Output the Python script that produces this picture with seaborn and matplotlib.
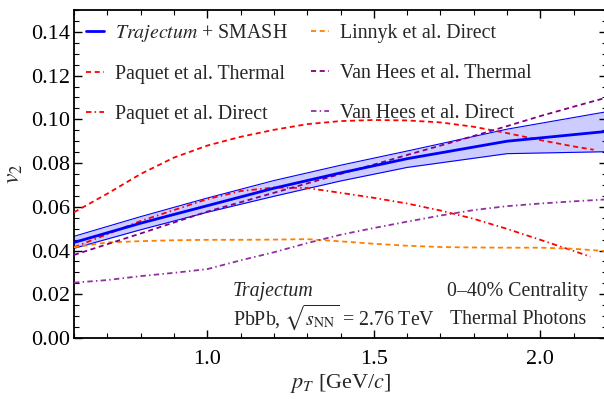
import numpy as np
import pandas as pd
import matplotlib
matplotlib.use("Agg")
import matplotlib.pyplot as plt
import seaborn as sns
from matplotlib.ticker import MultipleLocator
from matplotlib.lines import Line2D

# ---------------- data ----------------
pt_traj = [0.6, 0.8, 1.0, 1.2, 1.4, 1.6, 1.9, 2.2]
traj_mid = [0.0437, 0.0525, 0.0605, 0.0685, 0.0755, 0.0820, 0.0900, 0.0945]
traj_hi = [0.0465, 0.0555, 0.0640, 0.0720, 0.0790, 0.0855, 0.0955, 0.1035]
traj_lo = [0.0410, 0.0495, 0.0575, 0.0648, 0.0718, 0.0780, 0.0843, 0.0852]

pt_paq_th = [0.6, 0.7, 0.8, 0.9, 1.0, 1.1, 1.2, 1.3, 1.4, 1.5, 1.6, 1.7, 1.8, 1.9, 2.0, 2.1, 2.16]
paq_th = [0.0575, 0.0660, 0.0750, 0.0825, 0.0880, 0.0920, 0.0952, 0.0978, 0.0992, 0.0997, 0.0995,
          0.0986, 0.0966, 0.0937, 0.0905, 0.0876, 0.0861]

pt_paq_dir = [0.6, 0.7, 0.8, 0.9, 1.0, 1.1, 1.2, 1.3, 1.4, 1.5, 1.6, 1.7, 1.8, 1.9, 2.0, 2.1, 2.15]
paq_dir = [0.0415, 0.0475, 0.0535, 0.0585, 0.0635, 0.0672, 0.0688, 0.0686, 0.0664, 0.0641, 0.0615,
           0.0583, 0.0545, 0.0499, 0.0449, 0.0398, 0.0372]

pt_grid = [0.6, 0.7, 0.8, 0.9, 1.0, 1.1, 1.2, 1.3, 1.4, 1.5, 1.6, 1.7, 1.8, 1.9, 2.0, 2.1, 2.2]
linnyk = [0.0415, 0.0437, 0.0443, 0.0447, 0.0449, 0.0449, 0.0450, 0.0452, 0.0442, 0.0431, 0.0422,
          0.0416, 0.0414, 0.0413, 0.0413, 0.0408, 0.0397]
vh_th = [0.0380, 0.0429, 0.0478, 0.0528, 0.0578, 0.0621, 0.0664, 0.0707, 0.0750, 0.0793, 0.0837,
         0.0880, 0.0924, 0.0969, 0.1015, 0.1058, 0.1100]
vh_dir = [0.0253, 0.0265, 0.0283, 0.0298, 0.0315, 0.0355, 0.0392, 0.0434, 0.0472, 0.0503, 0.0532,
          0.0560, 0.0585, 0.0603, 0.0615, 0.0625, 0.0634]

labels = [r"$\mathit{Trajectum}$ + SMASH", "Paquet et al. Thermal", "Paquet et al. Direct",
          "Linnyk et al. Direct", "Van Hees et al. Thermal", "Van Hees et al. Direct"]

# ---------------- style ----------------
sns.set_style("ticks")
plt.rcParams["font.family"] = ["Liberation Serif", "DejaVu Serif"]
plt.rcParams["mathtext.fontset"] = "stix"

BLUE = "#0000FF"
RED = "#FF0000"
ORANGE = "#FF8000"
PURPLE = "#800080"
PURPLE2 = "#9030A0"

lw = 1.3
DASH = (0, (2.8, 2.0))
DASHDOT = (0, (3.0, 1.8, 0.8, 1.8))

fig = plt.figure(figsize=(6.04, 3.99), dpi=100)
ax = fig.add_axes([74 / 604, 1 - 338 / 399, (607 - 74) / 604, (338 - 10) / 399])

# band
ax.fill_between(pt_traj, traj_lo, traj_hi, color=BLUE, alpha=0.2, lw=0, zorder=1)
sns.lineplot(x=pt_traj, y=traj_hi, ax=ax, color=BLUE, lw=0.8, zorder=2)
sns.lineplot(x=pt_traj, y=traj_lo, ax=ax, color=BLUE, lw=0.8, zorder=2)

sns.lineplot(x=pt_paq_th, y=paq_th, ax=ax, color=RED, lw=lw, linestyle=DASH, zorder=3)
sns.lineplot(x=pt_paq_dir, y=paq_dir, ax=ax, color=RED, lw=lw, linestyle=DASHDOT, zorder=3)
sns.lineplot(x=pt_grid, y=linnyk, ax=ax, color=ORANGE, lw=lw, linestyle=DASH, zorder=3)
sns.lineplot(x=pt_grid, y=vh_th, ax=ax, color=PURPLE, lw=lw, linestyle=DASH, zorder=3)
sns.lineplot(x=pt_grid, y=vh_dir, ax=ax, color=PURPLE2, lw=lw, linestyle=DASHDOT, zorder=3)
sns.lineplot(x=pt_traj, y=traj_mid, ax=ax, color=BLUE, lw=2.0, zorder=4)

ax.set_xlim(0.6, 2.2)
ax.set_ylim(0.0, 0.15)
ax.xaxis.set_major_locator(MultipleLocator(0.5))
ax.xaxis.set_minor_locator(MultipleLocator(0.1))
ax.yaxis.set_major_locator(MultipleLocator(0.02))
ax.yaxis.set_minor_locator(MultipleLocator(0.005))
ax.xaxis.set_major_formatter(matplotlib.ticker.FormatStrFormatter("%.1f"))
ax.yaxis.set_major_formatter(matplotlib.ticker.FormatStrFormatter("%.2f"))
ax.tick_params(which="both", direction="in", top=True, right=True, colors="black")
ax.tick_params(which="major", length=6, width=1.0, labelsize=16)
ax.tick_params(which="minor", length=3.5, width=0.8)
ax.tick_params(axis="x", which="major", pad=9)
ax.tick_params(axis="y", which="major", pad=3)
for s in ax.spines.values():
    s.set_linewidth(1.3)
    s.set_color("black")

ax.set_xlabel(r"$p_T$ [GeV/$c$]", fontsize=16, labelpad=2)
ax.set_ylabel(r"$v_2$", fontsize=17, labelpad=4)

handles = [
    Line2D([], [], color=BLUE, lw=2.0),
    Line2D([], [], color=RED, lw=lw, linestyle=DASH),
    Line2D([], [], color=RED, lw=lw, linestyle=DASHDOT),
    Line2D([], [], color=ORANGE, lw=lw, linestyle=DASH),
    Line2D([], [], color=PURPLE, lw=lw, linestyle=DASH),
    Line2D([], [], color=PURPLE2, lw=lw, linestyle=DASHDOT),
]
ax.legend(handles, labels, ncol=2, loc="upper left", bbox_to_anchor=(0, 1),
          frameon=False, fontsize=14.3, borderaxespad=0, borderpad=0.6,
          handlelength=0.9, handletextpad=0.55, columnspacing=1.2, labelspacing=1.07)

ax.text(1.077, 0.0192, "Trajectum", fontsize=14.3, style="italic", va="baseline", ha="left")
ax.text(1.077, 0.0062, r"PbPb, $\sqrt{s_{\mathrm{NN}}}$ = 2.76 TeV", fontsize=14.3,
        va="baseline", ha="left")
ax.text(1.932, 0.0190, "0\u201340% Centrality", fontsize=14.3, va="baseline", ha="center")
ax.text(1.932, 0.0062, "Thermal Photons", fontsize=14.3, va="baseline", ha="center")

fig.savefig("out.png", dpi=100)
